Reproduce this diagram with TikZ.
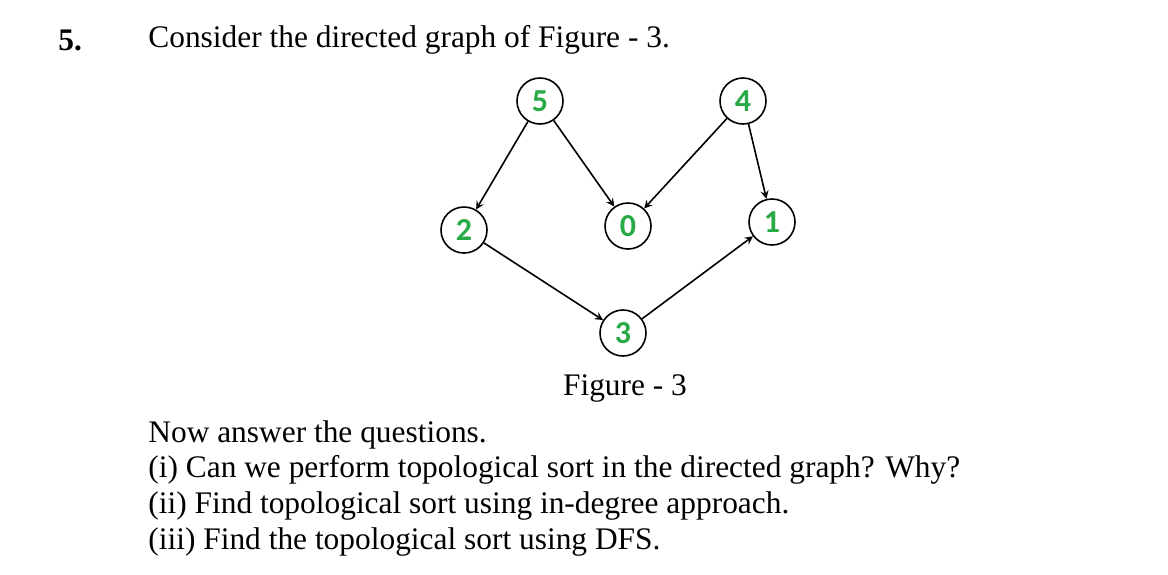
\documentclass[tikz,border=0pt]{standalone}
\usepackage{fontspec}
\setmainfont{Liberation Serif}
\newfontfamily\digitfont{Carlito}
\usetikzlibrary{positioning}
\usetikzlibrary{arrows}
\definecolor{numgreen}{RGB}{40,170,70}
\tikzset{
  vtx/.style={draw, circle, thick, minimum size=23pt, inner sep=0pt, font=\digitfont\bfseries\fontsize{16}{16}\selectfont, text=numgreen},
  txt/.style={anchor=west, inner sep=0pt, font=\fontsize{15.7}{17}\selectfont},
  edge/.style={->, >=stealth, thick}
}
\begin{document}
\begin{tikzpicture}[x=0.5pt, y=-0.5pt]
			\useasboundingbox (0,0) rectangle (1168,574);
			\node[txt, font=\bfseries\fontsize{15.7}{17}\selectfont] (qnum) at (58,40) {5.};
			\node[txt] (intro) at (148,40) {Consider the directed graph of Figure - 3.};
			
			\node[vtx] (v5) at (540,101) {5};
			\node[vtx] (v4) at (743,101) {4};
			\node[vtx] (v2) at (464,230) {2};
			\node[vtx] (v0) at (628,226) {0};
			\node[vtx] (v1) at (772,222) {1};
			\node[vtx] (v3) at (623,333) {3};
			
			\draw[edge] (v5) -- (v2);
			\draw[edge] (v5) -- (v0);
			\draw[edge] (v4) -- (v0);
			\draw[edge] (v4) -- (v1);
			\draw[edge] (v2) -- (v3);
			\draw[edge] (v3) -- (v1);
			
			\node[txt, anchor=center] (cap) at (625,388) {Figure - 3};
			\node[txt] (l0) at (148,435) {Now answer the questions.};
			\node[txt] (l1) at (148,470) {(i) Can we perform topological sort in the directed graph? Why?};
			\node[txt] (l2) at (148,506) {(ii) Find topological sort using in-degree approach.};
			\node[txt] (l3) at (148,542) {(iii) Find the topological sort using DFS.};
		\end{tikzpicture}
\end{document}
